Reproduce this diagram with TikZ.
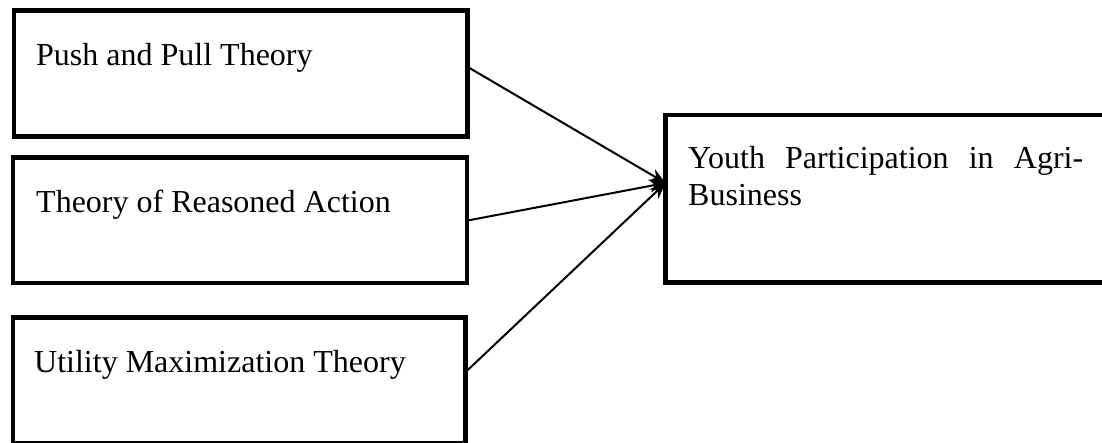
\documentclass[tikz,border=0pt]{standalone}
\usepackage{fontspec}
\setmainfont{Liberation Serif}
\usetikzlibrary{arrows.meta}
\begin{document}
\begin{tikzpicture}[x=1pt,y=-1pt,
  boxx/.style={draw=black,line width=4.5pt,rectangle,inner sep=0pt,outer sep=0pt,anchor=north west},
  lbl/.style={anchor=base west,inner sep=0pt,font=\fontsize{32}{37}\selectfont},
  conn/.style={draw=black,line width=2pt,-{Stealth[length=16pt,width=13pt]}}]
\useasboundingbox[fill=white] (0,0) rectangle (1102,442);
\begin{scope}
\clip (0,0) rectangle (1102,442);
\node[boxx,minimum width=453.5pt,minimum height=126pt] (b1) at (14,10.5) {};
\node[boxx,minimum width=454pt,minimum height=125.5pt] (b2) at (13,157.5) {};
\node[boxx,minimum width=452.5pt,minimum height=125.5pt] (b3) at (13,317.5) {};
\node[boxx,minimum width=445pt,minimum height=167.5pt] (b4) at (665.5,115) {};
\end{scope}
\node[lbl] (t1) at (36,65) {Push and Pull Theory};
\node[lbl] (t2) at (36,212) {Theory of Reasoned Action};
\node[lbl] (t3) at (34,372) {Utility Maximization Theory};
\node[lbl] (t4) at (688,168) {\makebox[395pt][s]{Youth Participation in Agri-}};
\node[lbl] (t5) at (688,205) {Business};
\coordinate (tgt) at ([yshift=15.75pt]b4.west);
\draw[conn] ([yshift=5.5pt,xshift=2pt]b1.east) -- (tgt);
\draw[conn] ([xshift=2pt]b2.east) -- (tgt);
\draw[conn] ([yshift=10pt,xshift=2pt]b3.east) -- (tgt);
\end{tikzpicture}
\end{document}
